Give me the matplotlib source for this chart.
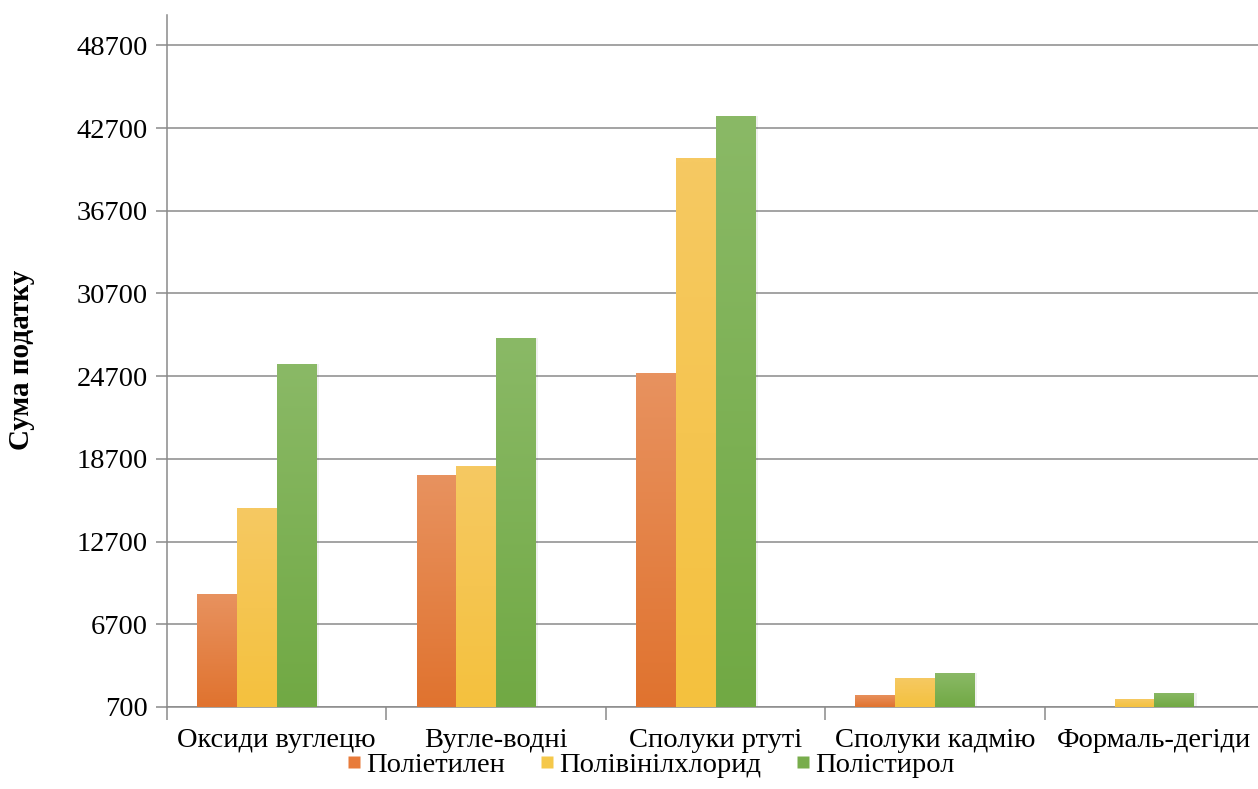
import numpy as np
import matplotlib
matplotlib.use('Agg')
import matplotlib.pyplot as plt
from matplotlib.lines import Line2D
from matplotlib.colors import to_rgb

categories = ['Оксиди вуглецю', 'Вугле-водні', 'Сполуки ртуті', 'Сполуки кадмію', 'Формаль-дегіди']
series = ['Поліетилен', 'Полівінілхлорид', 'Полістирол']
polyethylene = [8900, 17500, 24900, 1600, 700]
pvc = [15100, 18200, 40500, 2800, 1250]
polystyrene = [25600, 27500, 43600, 3150, 1750]
yticks = [700, 6700, 12700, 18700, 24700, 30700, 36700, 42700, 48700]

# base colour (bottom of bar) and light colour (top of bar)
colors = [('#E0732F', '#E8925F'), ('#F4C13E', '#F6C962'), ('#71A944', '#8AB966')]
legend_colors = ['#E87B3A', '#F5C84A', '#78AD4C']

plt.rcParams['font.family'] = ['Liberation Serif', 'DejaVu Serif']

fig = plt.figure(figsize=(12.58, 7.89), dpi=100)
W, H = 1258, 789
left, right, top, bottom = 167, 1264, 15, 707
ax = fig.add_axes([left / W, 1 - bottom / H, (right - left) / W, (bottom - top) / H])

ymin, ymax = 700, 50900
x = np.arange(len(categories))
width = 0.181
offsets = [-1.5 * width, -0.5 * width, 0.5 * width]

for vals, off, (c0, c1) in zip([polyethylene, pvc, polystyrene], offsets, colors):
    bars = ax.bar(x + off, np.array(vals) - ymin, width, bottom=ymin,
                  color=c0, edgecolor='none', zorder=3)
    grad = np.linspace(0, 1, 64)[:, None]
    a, b = np.array(to_rgb(c0)), np.array(to_rgb(c1))
    img = (a * (1 - grad[..., None]) + b * grad[..., None])
    for bar in bars:
        bx, by = bar.get_x(), bar.get_y()
        bw, bh = bar.get_width(), bar.get_height()
        if bh <= 0:
            continue
        # soft shadow to the right of each bar
        ax.bar(bx + bw / 2 + 0.012, bh, bw, bottom=by, color='#000000',
               alpha=0.06, edgecolor='none', zorder=2)
        im = ax.imshow(img, extent=(bx, bx + bw, by, by + bh), origin='lower',
                       aspect='auto', zorder=3.5, interpolation='bilinear')
        im.set_clip_path(bar)

ax.set_xlim(-0.5, len(categories) - 0.5)
ax.set_ylim(ymin, ymax)
ax.set_yticks(yticks)
ax.set_yticklabels([str(t) for t in yticks], fontsize=20.5)
ax.yaxis.grid(True, color='#8a8a8a', linewidth=1.1, zorder=0)
ax.set_axisbelow(True)

ax.set_xticks(np.arange(len(categories) + 1) - 0.5)
ax.set_xticklabels([])
ax.set_xticks(x, minor=True)
ax.set_xticklabels(categories, minor=True, fontsize=20.5)
ax.tick_params(axis='x', which='minor', length=0, pad=15)
ax.tick_params(axis='x', which='major', length=9, color='#8a8a8a', width=1.1)
ax.tick_params(axis='y', length=8, color='#8a8a8a', width=1.1, pad=6)

for s in ['top', 'right']:
    ax.spines[s].set_visible(False)
for s in ['left', 'bottom']:
    ax.spines[s].set_color('#8a8a8a')
    ax.spines[s].set_linewidth(1.1)

fig.text(22 / W, 1 - 360 / H, 'Сума податку', rotation=90, fontsize=21,
         fontweight='bold', ha='center', va='center')

handles = [Line2D([], [], marker='s', linestyle='none', markersize=9,
                  markerfacecolor=c, markeredgecolor='none') for c in legend_colors]
fig.legend(handles, series, loc='center left', bbox_to_anchor=(343 / W, 1 - 765 / H),
           ncol=3, frameon=False, fontsize=20.5, handletextpad=0.0,
           columnspacing=1.1, handlelength=0.8, borderaxespad=0, borderpad=0)

fig.savefig('out.png', dpi=100)
